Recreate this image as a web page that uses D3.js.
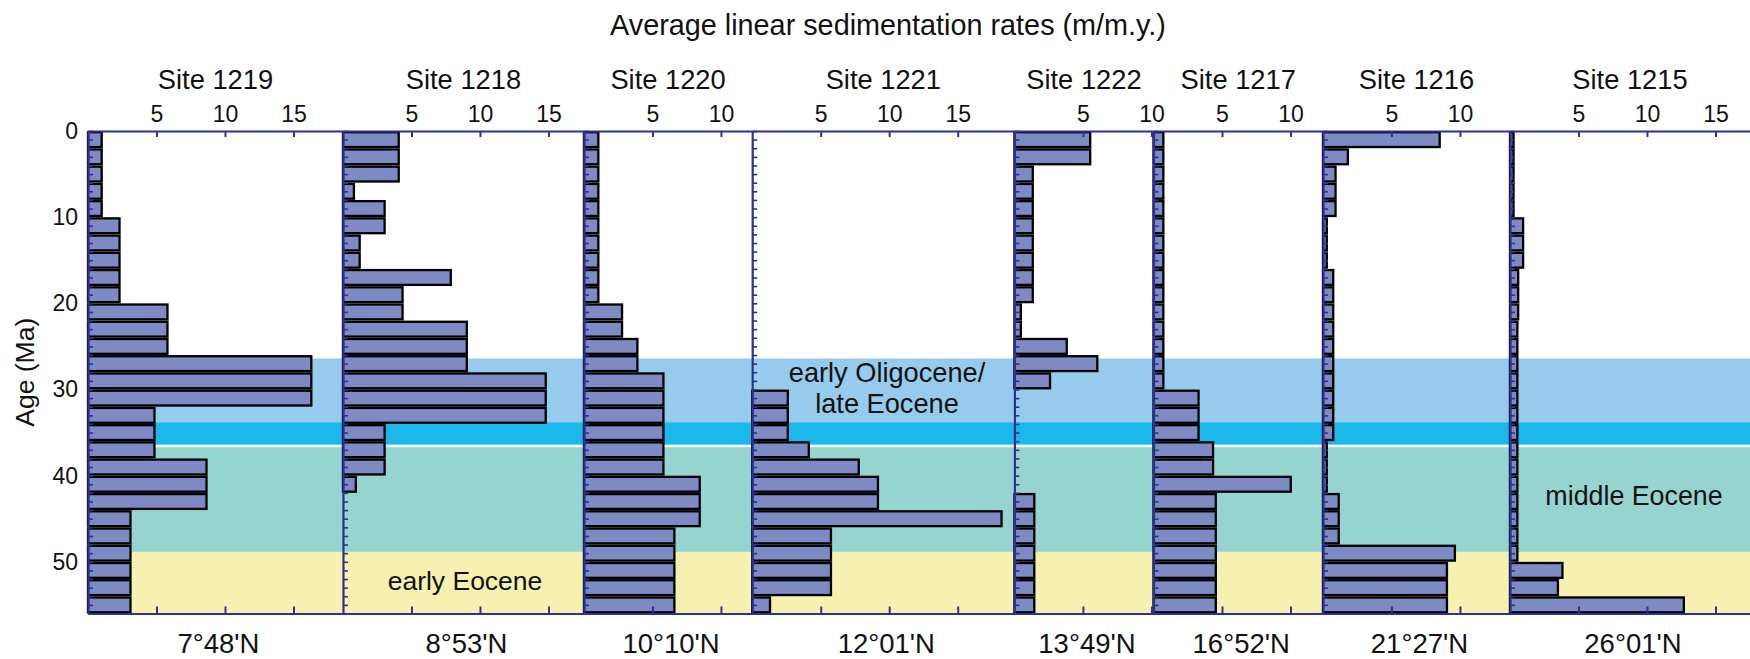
<!DOCTYPE html>
<html>
<head>
<meta charset="utf-8">
<script src="https://cdn.jsdelivr.net/npm/d3@7"></script>
<style>
    body { margin: 0; background: #fff; }
    text { font-family: "Liberation Sans", Arial, Helvetica, sans-serif; fill: #111; }
</style>
</head>
<body>
<svg id="my-svg"></svg>
<script>
// sites, west to east
const sites = ["Site 1219", "Site 1218", "Site 1220", "Site 1221", "Site 1222", "Site 1217", "Site 1216", "Site 1215"];
const latitudes = ["7°48'N", "8°53'N", "10°10'N", "12°01'N", "13°49'N", "16°52'N", "21°27'N", "26°01'N"];
// max of each rate axis (m/m.y.)
const rateMax = [18.61, 17.59, 12.28, 19.14, 10.15, 12.37, 13.65, 17.52];
const rateTicks = [5, 10, 15];
const ageTicks = [0, 10, 20, 30, 40, 50];

// start of each 2 m.y. interval (Ma)
const ageStart = [0, 2, 4, 6, 8, 10, 12, 14, 16, 18, 20, 22, 24, 26, 28, 30, 32, 34, 36, 38, 40, 42, 44, 46, 48, 50, 52, 54];

const rate1219 = [1.0, 1.0, 1.0, 1.0, 1.0, 2.3, 2.3, 2.3, 2.3, 2.3, 5.8, 5.8, 5.8, 16.3, 16.3, 16.3, 4.85, 4.85, 4.85, 8.65, 8.65, 8.65, 3.1, 3.1, 3.1, 3.1, 3.1, 3.1];
const rate1218 = [4.07, 4.07, 4.07, 0.8, 3.04, 3.04, 1.22, 1.22, 7.87, 4.35, 4.35, 9.04, 9.04, 9.04, 14.8, 14.8, 14.8, 3.04, 3.04, 3.04, 0.94, null, null, null, null, null, null, null];
const rate1220 = [1.05, 1.05, 1.05, 1.05, 1.05, 1.05, 1.05, 1.05, 1.05, 1.05, 2.78, 2.78, 3.9, 3.9, 5.8, 5.8, 5.8, 5.8, 5.8, 5.8, 8.45, 8.45, 8.45, 6.6, 6.6, 6.6, 6.6, 6.6];
const rate1221 = [null, null, null, null, null, null, null, null, null, null, null, null, null, null, null, 2.6, 2.6, 2.6, 4.13, 7.78, 9.18, 9.18, 18.2, 5.75, 5.75, 5.75, 5.75, 1.3];
const rate1222 = [5.53, 5.53, 1.34, 1.34, 1.34, 1.34, 1.34, 1.34, 1.34, 1.34, 0.47, 0.47, 3.82, 6.05, 2.6, null, null, null, null, null, null, 1.45, 1.45, 1.45, 1.45, 1.45, 1.45, 1.45];
const rate1217 = [0.72, 0.72, 0.72, 0.72, 0.72, 0.72, 0.72, 0.72, 0.72, 0.72, 0.72, 0.72, 0.72, 0.72, 0.72, 3.29, 3.29, 3.29, 4.35, 4.35, 10.02, 4.55, 4.55, 4.55, 4.55, 4.55, 4.55, 4.55];
const rate1216 = [8.52, 1.82, 0.92, 0.92, 0.92, 0.28, 0.28, 0.28, 0.75, 0.75, 0.75, 0.75, 0.75, 0.75, 0.75, 0.75, 0.75, 0.75, 0.28, 0.28, 0.28, 1.15, 1.15, 1.15, 9.63, 9.05, 9.05, 9.05];
const rate1215 = [0.26, 0.26, 0.26, 0.26, 0.26, 0.96, 0.96, 0.96, 0.6, 0.6, 0.6, 0.54, 0.54, 0.54, 0.54, 0.54, 0.54, 0.54, 0.54, 0.54, 0.54, 0.54, 0.54, 0.54, 0.54, 3.83, 3.5, 12.69];
const rates = [rate1219, rate1218, rate1220, rate1221, rate1222, rate1217, rate1216, rate1215];

// epoch bands (Ma)
const bandFrom = [26.4, 33.8, 36.7, 48.85];
const bandTo = [33.8, 36.4, 48.85, 56];
const bandColors = ["#97cbee", "#1bb8ec", "#96d4d0", "#f6f1b0"];

const width = 1750;
const height = 659;
const plotLeft = 88, plotRight = 1750, plotTop = 131, plotBottom = 613.5;
const axisColor = "#2e3192";
const barColor = "#7d8ac4";

const svg = d3.select("#my-svg")
    .attr("width", width)
    .attr("height", height);

const y = d3.scaleLinear()
    .domain([0, 56])
    .range([plotTop, plotBottom]);

// all panels share the same px per unit, laid side by side
const offsets = [];
rateMax.reduce((acc, m, i) => { offsets[i] = acc; return acc + m; }, 0);
const total = d3.sum(rateMax);
const outer = d3.scaleLinear().domain([0, total]).range([plotLeft, plotRight]);
const xs = rateMax.map((m, i) => d3.scaleLinear()
    .domain([0, m])
    .range([outer(offsets[i]), outer(offsets[i] + m)]));


// bands
svg.append("g").selectAll("rect")
    .data(bandFrom)
    .enter().append("rect")
    .attr("x", plotLeft)
    .attr("y", d => y(d))
    .attr("width", plotRight - plotLeft)
    .attr("height", (d, i) => y(bandTo[i]) - y(d))
    .attr("fill", (d, i) => bandColors[i]);


// bars
rates.forEach((vals, i) => {
    const x = xs[i];
    svg.append("g")
        .attr("class", "bars")
        .selectAll("rect")
        .data(ageStart.map((a, j) => ({ age: a, rate: vals[j] })).filter(d => d.rate != null))
        .enter().append("rect")
        .attr("x", x(0))
        .attr("y", d => y(d.age) + 1.2)
        .attr("width", d => x(d.rate) - x(0))
        .attr("height", d => y(d.age + 2) - y(d.age) - 2.4)
        .attr("fill", barColor)
        .attr("stroke", "#000")
        .attr("stroke-width", 2.3);
});


// axes
rates.forEach((vals, i) => {
    const x = xs[i];
    const ticks = rateTicks.filter(t => t < rateMax[i]);

    const left = svg.append("g")
        .attr("transform", `translate(${x(0)},0)`)
        .call(d3.axisRight(y)
            .tickValues(d3.range(0, 57, 1))
            .tickSize(5)
            .tickSizeOuter(0)
            .tickFormat(""));
    left.select(".domain").attr("stroke", axisColor).attr("stroke-width", 2.2);
    left.selectAll(".tick line").attr("stroke", axisColor).attr("stroke-width", 1.6);

    const top = svg.append("g")
        .attr("transform", `translate(0,${plotTop})`)
        .call(d3.axisTop(x)
            .tickValues(ticks)
            .tickSize(-6)
            .tickSizeOuter(0)
            .tickPadding(9));
    top.select(".domain").attr("stroke", axisColor).attr("stroke-width", 2.2);
    top.selectAll(".tick line").attr("stroke", axisColor).attr("stroke-width", 2);
    top.selectAll(".tick text")
        .attr("font-size", 23)
        .attr("font-family", "'Liberation Sans', Arial, sans-serif")
        .attr("fill", "#111");

    const bottom = svg.append("g")
        .attr("transform", `translate(0,${plotBottom})`)
        .call(d3.axisBottom(x)
            .tickValues(ticks)
            .tickSize(-7)
            .tickSizeOuter(0)
            .tickFormat(""));
    bottom.select(".domain").attr("stroke", axisColor).attr("stroke-width", 2.2);
    bottom.selectAll(".tick line").attr("stroke", axisColor).attr("stroke-width", 2);

    svg.append("text")
        .attr("x", (x.range()[0] + x.range()[1]) / 2)
        .attr("y", 89)
        .attr("text-anchor", "middle")
        .attr("font-size", 27.3)
        .text(sites[i]);

    svg.append("text")
        .attr("x", (x.range()[0] + x.range()[1]) / 2 + 3)
        .attr("y", 653)
        .attr("text-anchor", "middle")
        .attr("font-size", 27.5)
        .text(latitudes[i]);
});

// age labels
const yLabels = svg.append("g")
    .attr("transform", `translate(${plotLeft},0)`)
    .call(d3.axisLeft(y)
        .tickValues(ageTicks)
        .tickSize(0)
        .tickPadding(10));
yLabels.select(".domain").remove();
yLabels.selectAll(".tick text")
    .attr("font-size", 23)
    .attr("font-family", "'Liberation Sans', Arial, sans-serif")
    .attr("fill", "#111");

svg.append("text")
    .attr("transform", `translate(34,${(plotTop + plotBottom) / 2}) rotate(-90)`)
    .attr("text-anchor", "middle")
    .attr("font-size", 26.5)
    .text("Age (Ma)");

svg.append("text")
    .attr("x", 888)
    .attr("y", 35)
    .attr("text-anchor", "middle")
    .attr("font-size", 28.8)
    .text("Average linear sedimentation rates (m/m.y.)");

// epoch labels
svg.append("text").attr("x", 887).attr("y", 382).attr("text-anchor", "middle").attr("font-size", 27.2).text("early Oligocene/");
svg.append("text").attr("x", 887).attr("y", 413).attr("text-anchor", "middle").attr("font-size", 27.2).text("late Eocene");
svg.append("text").attr("x", 465).attr("y", 590).attr("text-anchor", "middle").attr("font-size", 26.5).text("early Eocene");
svg.append("text").attr("x", 1634).attr("y", 505).attr("text-anchor", "middle").attr("font-size", 26.8).text("middle Eocene");
</script>
</body>
</html>
